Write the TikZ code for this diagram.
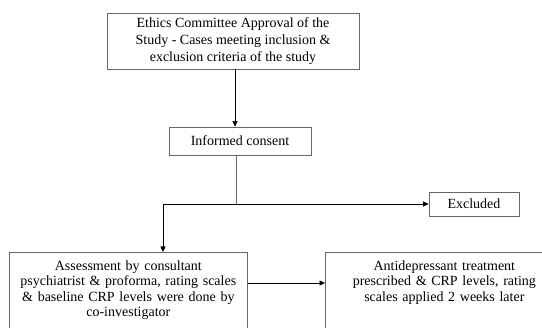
\documentclass[tikz,border=0pt]{standalone}
\usepackage{fontspec}
\setmainfont{Liberation Serif}
\usepackage{tikz}
\usetikzlibrary{arrows.meta}

\begin{document}
\begin{tikzpicture}[
  x=1pt, y=-1pt,
  every node/.style={font=\fontsize{14}{15.5}\selectfont},
  box/.style={rectangle, draw=black!60, line width=0.7pt, align=center,
              inner xsep=3pt, inner ysep=4pt},
  tallbox/.style={box, anchor=north west, text width=232pt, inner ysep=8pt,
                  text depth=70pt},
  arr/.style={-{Triangle[length=5.5pt, width=5pt]}, draw=black, line width=0.6pt},
  link/.style={draw=black!60, line width=0.7pt}]

\useasboundingbox (0,0) rectangle (542,328);
\clip (0,0) rectangle (542,328);

\node[box, minimum width=252pt, minimum height=56pt,
      font=\fontsize{14}{17}\selectfont] (ethics) at (233,41)
  {Ethics Committee Approval of the\\Study - Cases meeting inclusion \&\\exclusion criteria of the study};
\node[box, minimum width=142pt, minimum height=28pt] (consent) at (240,141) {Informed consent};
\node[box, minimum width=90pt, minimum height=24pt] (excluded) at (474,204) {Excluded};
\node[tallbox] (assess) at (9,252)
  {Assessment by consultant\\psychiatrist \& proforma, rating scales\\\& baseline CRP levels were done by\\co-investigator};
\node[tallbox] (antidep) at (325,252)
  {Antidepressant treatment\\prescribed \& CRP levels, rating\\scales applied 2 weeks later\hspace*{16pt}};

\coordinate (split) at (236,204);
\coordinate (turn) at (163,204);
\coordinate (mid) at (0,283);

\draw[arr] (ethics.south -| 235,0) -- (consent.north -| 235,0);
\draw[link] (consent.south -| split) -- (split);
\draw[arr] (turn) -- (excluded.west);
\draw[arr] (turn) -- (turn |- assess.north);
\draw[arr] (assess.east |- mid) -- (antidep.west |- mid);
\end{tikzpicture}
\end{document}
